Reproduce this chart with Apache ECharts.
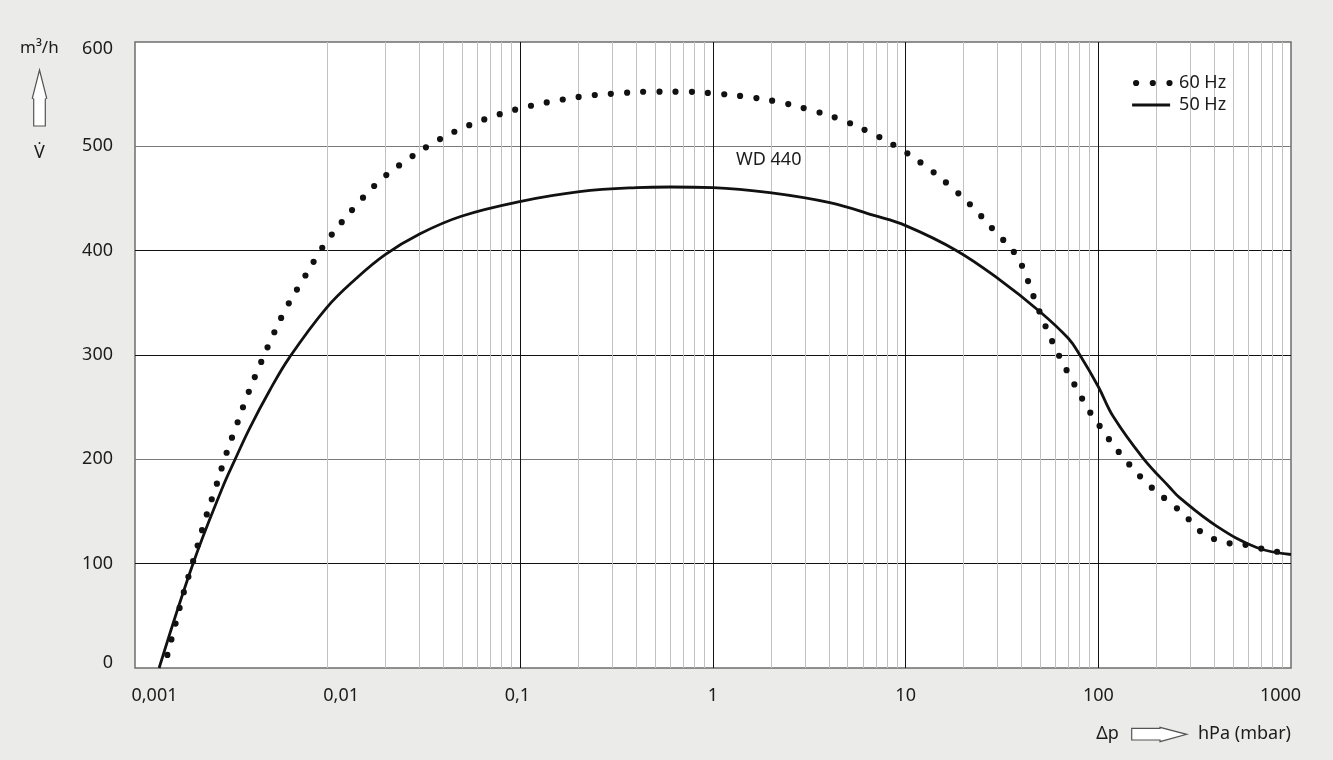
<!DOCTYPE html>
<html>
<head>
<meta charset="utf-8">
<script src="https://cdn.jsdelivr.net/npm/echarts@6/dist/echarts.min.js"></script>
<style>
html,body{margin:0;padding:0;background:#ebebe9;}
#c{width:1333px;height:760px;}
</style>
</head>
<body>
<div id="c"></div>
<script>
// ---- data ----
const seriesNames = ['60 Hz', '50 Hz'];
const xTickLabels = ['0,001', '0,01', '0,1', '1', '10', '100', '1000'];
const yTickValues = [0, 100, 200, 300, 400, 500, 600];
const decades = [0.001, 0.01, 0.1, 1, 10, 100];
const minorMultipliers = [2, 3, 4, 5, 6, 7, 8, 9];

// 60 Hz (dotted): pressure hPa, flow m3/h
const p60 = [0.001472, 0.001625, 0.001788, 0.0020, 0.002345, 0.00264, 0.00296, 0.00337, 0.00384, 0.00445,
  0.00518, 0.00612, 0.00739, 0.00906, 0.01008, 0.014, 0.019, 0.0258, 0.0355, 0.0498, 0.0716, 0.103,
  0.151, 0.220, 0.321, 0.47, 0.686, 1.0, 1.48, 2.15, 3.12, 4.52, 6.39, 8.97, 12.3, 16.6, 22.0, 28.4,
  36.9, 40.5, 46.3, 53.5, 62.7, 75, 90.4, 101, 112.5, 143, 187, 250, 288, 328, 385, 460, 558, 668, 809, 980];
const v60 = [12.5, 42.8, 72, 102, 145.7, 174.7, 204, 233, 261.7, 290.4,
  318.2, 345.7, 371.2, 398.4, 411.2, 443, 468.4, 486.9, 503.5, 517.3, 528.5, 537,
  543.5, 548.3, 550.8, 552.4, 552.4, 550.8, 547.6, 542.8, 535.5, 526.2, 514.1, 499.7, 482.8, 463.6, 442.8, 420.5,
  397.5, 384, 355.3, 326.6, 299, 272, 245.4, 232.6, 220.2, 196.2, 173.8, 154.6, 144.4, 133, 124.9, 120.1, 118.6, 115.3, 112.1, 109.3];

// 50 Hz (solid)
const p50 = [0.001334, 0.0020, 0.00286, 0.00329, 0.00394, 0.005, 0.00635, 0.00984, 0.014, 0.0198, 0.030,
  0.0494, 0.0993, 0.203, 0.40, 0.60, 1.0, 1.97, 4.04, 6.77, 10, 18.4, 30.8, 49.8, 69.8, 80.2, 100,
  119.5, 171, 235, 265, 411, 663, 1000];
const v50 = [0, 100, 174, 199, 230, 266, 298, 345, 373, 396, 416,
  433, 447, 456.5, 460.4, 461, 460.4, 455.6, 446, 434, 424, 400, 372, 341.5, 316, 300, 269.6,
  241, 201, 173, 163, 136, 115.5, 108.8];

// ---- build ----
const pairs = (xs, ys) => xs.map((x, i) => [x, ys[i]]);
const minorLines = [];
decades.forEach(d => minorMultipliers.forEach(m => minorLines.push({ xAxis: +(d * m).toPrecision(3) })));

const FONT = 'Noto Sans';
const TXT = '#1c1c1c';

// per-label horizontal nudges (rich padding) to match the reference placement
const xRich = {
  l39: { padding: [0, 0, 0, 39] },
  l27: { padding: [0, 0, 0, 27] },
  r6: { padding: [0, 6, 0, 0] },
  n: {},
  r21: { padding: [0, 21, 0, 0] }
};
const xRichKeys = ['l39', 'l27', 'r6', 'n', 'n', 'n', 'r21'];

const chart = echarts.init(document.getElementById('c'), null, { renderer: 'canvas' });
chart.setOption({
  animation: false,
  backgroundColor: '#ebebe9',
  textStyle: { fontFamily: FONT },
  grid: {
    left: 135, right: 42, top: 42, bottom: 92,
    show: true, backgroundColor: '#ffffff', borderColor: '#6e6e6e', borderWidth: 1.5
  },
  xAxis: {
    type: 'log', logBase: 10, min: 0.001, max: 1000,
    axisLine: { show: false }, axisTick: { show: false },
    splitLine: { show: true, showMinLine: false, showMaxLine: false, lineStyle: { color: '#111', width: 1 } },
    axisLabel: {
      margin: 19, fontSize: 18, color: TXT, fontFamily: FONT,
      showMinLabel: true, showMaxLabel: true,
      formatter: function (val) {
        const i = Math.round(Math.log10(val)) + 3;
        return '{' + xRichKeys[i] + '|' + xTickLabels[i] + '}';
      },
      rich: Object.fromEntries(Object.entries(xRich).map(([k, v]) => [k, Object.assign({ fontSize: 18, color: TXT, fontFamily: FONT }, v)]))
    }
  },
  yAxis: {
    type: 'value', min: 0, max: 600, interval: 100,
    axisLine: { show: false }, axisTick: { show: false },
    splitLine: { show: true, showMinLine: false, showMaxLine: false,
      lineStyle: { color: ['#111', '#7a7a7a', '#111', '#111', '#7a7a7a'], width: 1 } },
    axisLabel: {
      margin: 22, fontSize: 18, color: TXT, fontFamily: FONT,
      formatter: function (val) {
        if (val === yTickValues[yTickValues.length - 1]) return '{t|' + val + '}';
        if (val === yTickValues[0]) return '{b|' + val + '}';
        return '{n|' + val + '}';
      },
      rich: {
        t: { fontSize: 18, color: TXT, fontFamily: FONT, padding: [14, 0, 0, 0] },
        b: { fontSize: 18, color: TXT, fontFamily: FONT, padding: [0, 0, 10, 0] },
        n: { fontSize: 18, color: TXT, fontFamily: FONT }
      }
    }
  },
  legend: {
    orient: 'vertical', left: 1129, top: 74, padding: 0,
    itemWidth: 38, itemHeight: 12, itemGap: 4,
    textStyle: { fontSize: 18, color: TXT, fontFamily: FONT, padding: [0, 0, 0, 4] },
    data: [
      { name: seriesNames[0],
        itemStyle: { opacity: 0, borderWidth: 0 },
        lineStyle: { color: '#111', width: 6.2, type: [0, 16.7], cap: 'round', dashOffset: 12.7 } },
      { name: seriesNames[1],
        itemStyle: { opacity: 0, borderWidth: 0 },
        lineStyle: { color: '#111', width: 2.8 } }
    ]
  },
  series: [
    {
      name: seriesNames[0], type: 'line', data: pairs(p60, v60),
      smooth: 0.4, symbol: 'none', showSymbol: false, z: 3,
      itemStyle: { color: '#111' },
      lineStyle: { color: '#111', width: 6.2, type: [0, 16.2], cap: 'round' }
    },
    {
      name: seriesNames[1], type: 'line', data: pairs(p50, v50),
      smooth: 0.4, symbol: 'none', showSymbol: false, z: 3,
      itemStyle: { color: '#111' },
      lineStyle: { color: '#111', width: 2.8 },
      markLine: {
        silent: true, z: 1, symbol: ['none', 'none'], animation: false,
        label: { show: false },
        lineStyle: { color: '#c2c2c2', width: 1, type: 'solid' },
        emphasis: { disabled: true },
        data: minorLines
      }
    }
  ],
  graphic: [
    { type: 'text', left: 20, top: 40, style: { text: 'm³/h', fontSize: 17, fontFamily: FONT, fill: TXT } },
    { type: 'polygon', shape: { points: [[39.5, 70], [46.7, 98.3], [45.3, 99], [45.3, 126], [33.7, 126], [33.7, 99], [32.3, 98.3]] },
      style: { fill: '#fff', stroke: '#555', lineWidth: 1.2 } },
    { type: 'text', x: 39.5, y: 153, style: { text: 'V\u0307', fontSize: 18, fontFamily: FONT, fill: TXT, align: 'center', verticalAlign: 'middle' } },
    { type: 'text', x: 1107.5, y: 734, style: { text: 'Δp', fontSize: 18, fontFamily: FONT, fill: TXT, align: 'center', verticalAlign: 'middle' } },
    { type: 'polygon', shape: { points: [[1131.7, 728.3], [1160, 728.3], [1160, 727.3], [1186.7, 734.3], [1160, 741.7], [1160, 740], [1131.7, 740]] },
      style: { fill: '#fff', stroke: '#555', lineWidth: 1.2 } },
    { type: 'text', x: 1198, y: 734, style: { text: 'hPa (mbar)', fontSize: 18, fontFamily: FONT, fill: TXT, align: 'left', verticalAlign: 'middle' } },
    { type: 'text', x: 736, y: 160, z: 10, style: { text: 'WD 440', fontSize: 18, fontFamily: FONT, fill: TXT, align: 'left', verticalAlign: 'middle' } }
  ]
});
</script>
</body>
</html>
